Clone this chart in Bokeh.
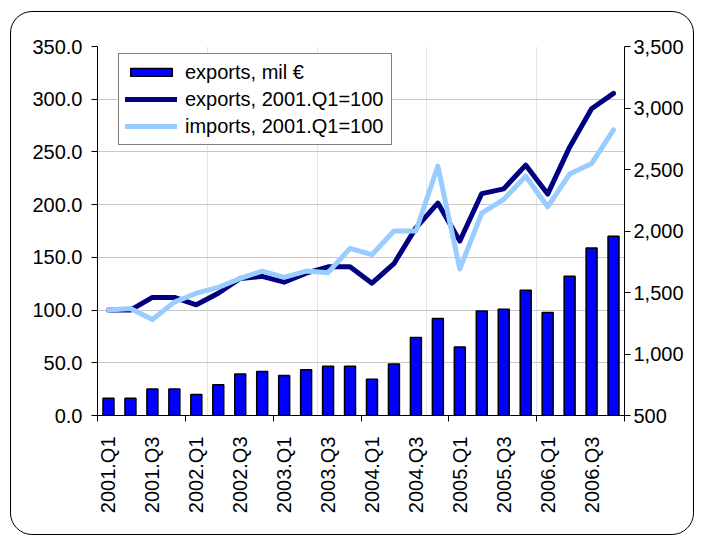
import math
import numpy as np
from bokeh.plotting import figure
from bokeh.models import (Range1d, LinearAxis, FixedTicker, NumeralTickFormatter,
                          Legend, LegendItem, Grid, ColumnDataSource, InlineStyleSheet)
from bokeh.embed import file_html
from bokeh.resources import INLINE

quarters = ["2001.Q1", "2001.Q2", "2001.Q3", "2001.Q4",
            "2002.Q1", "2002.Q2", "2002.Q3", "2002.Q4",
            "2003.Q1", "2003.Q2", "2003.Q3", "2003.Q4",
            "2004.Q1", "2004.Q2", "2004.Q3", "2004.Q4",
            "2005.Q1", "2005.Q2", "2005.Q3", "2005.Q4",
            "2006.Q1", "2006.Q2", "2006.Q3", "2006.Q4"]
exports_mil = [640, 640, 716, 716, 671, 749, 838, 858, 825, 871, 900, 900,
               795, 919, 1134, 1288, 1057, 1350, 1364, 1518, 1337, 1632, 1862, 1957]
exports_idx = [100, 100, 112, 112, 105, 116, 130, 132, 126.5, 135, 141, 141,
               125.5, 144, 178, 201.5, 165.5, 210.5, 215, 237.5, 210, 254.5, 291, 305.5]
imports_idx = [100, 101.5, 91, 107.5, 116, 121.5, 130, 137, 131, 137, 135.5, 158.5,
               152.5, 175, 175, 236.5, 139, 192, 205, 227, 198, 229, 239, 271]
left_ticks = [0, 50, 100, 150, 200, 250, 300, 350]
right_ticks = [500, 1000, 1500, 2000, 2500, 3000, 3500]

FONT = "Liberation Sans"
n = len(quarters)
xpos = np.arange(n) + 0.5
src = ColumnDataSource(dict(x=xpos, q=quarters, mil=exports_mil,
                            ex=exports_idx, im=imports_idx))

p = figure(width=695, height=536, x_range=Range1d(0, n),
           y_range=Range1d(left_ticks[0], left_ticks[-1]),
           output_backend="svg", toolbar_location=None,
           x_axis_location=None, y_axis_location=None,
           min_border_left=97, min_border_right=71, min_border_top=46, min_border_bottom=121)
p.outline_line_color = None
p.background_fill_color = "white"
p.border_fill_color = "white"
p.extra_y_ranges = {"mil": Range1d(right_ticks[0], right_ticks[-1])}

# axes
lt = FixedTicker(ticks=left_ticks)
yl = LinearAxis(ticker=lt, formatter=NumeralTickFormatter(format="0.0"))
yr = LinearAxis(y_range_name="mil", ticker=FixedTicker(ticks=right_ticks),
                formatter=NumeralTickFormatter(format="0,0"))
xt = FixedTicker(ticks=list(xpos[::2]), minor_ticks=list(np.arange(0, n + 1, 4)))
xa = LinearAxis(ticker=xt, major_label_overrides={float(v): quarters[i]
                                                  for i, v in enumerate(xpos) if i % 2 == 0})

for ax in (yl, yr, xa):
    ax.axis_line_color = "black"
    ax.axis_line_width = 1
    ax.major_tick_line_color = "black"
    ax.major_tick_in = 0
    ax.major_tick_out = 6
    ax.minor_tick_line_color = None
    ax.major_label_text_font = FONT
    ax.major_label_text_font_size = "20px"
    ax.major_label_text_color = "black"
yl.major_label_standoff = 9
yr.major_label_standoff = 3
xa.major_tick_line_color = None
xa.major_tick_out = 0
xa.minor_tick_line_color = "black"
xa.minor_tick_in = 0
xa.minor_tick_out = 6
xa.major_label_orientation = math.pi / 2
xa.major_label_standoff = 15

p.add_layout(yl, "left")
p.add_layout(yr, "right")
p.add_layout(xa, "below")
p.add_layout(Grid(dimension=1, ticker=lt, grid_line_color="#c8c8c8", grid_line_width=1))

bars = p.vbar(x="x", width=0.5, bottom=right_ticks[0], top="mil", source=src, y_range_name="mil",
              fill_color="#0000ff", line_color="black", line_width=1.5)
l1 = p.line("x", "ex", source=src, line_color="#000080", line_width=5,
            line_join="round", line_cap="round")
l2 = p.line("x", "im", source=src, line_color="#99ccff", line_width=5,
            line_join="round", line_cap="round")

legend = Legend(items=[LegendItem(label="exports, mil €", renderers=[bars]),
                       LegendItem(label="exports, 2001.Q1=100", renderers=[l1]),
                       LegendItem(label="imports, 2001.Q1=100", renderers=[l2])],
                location=(21, 270), orientation="vertical",
                label_text_font=FONT, label_text_font_size="20px", label_text_color="black",
                glyph_width=52, glyph_height=10, label_height=24, label_width=200,
                padding=6, spacing=3, label_standoff=8, margin=0,
                border_line_color="black", border_line_width=1,
                background_fill_color="white", background_fill_alpha=1)
p.add_layout(legend)

# rounded chart-area border
p.stylesheets = [InlineStyleSheet(css="""
:host { position: relative; }
:host::after {
  content: ''; position: absolute; left: 10px; top: 11px;
  width: 684px; height: 524px; box-sizing: border-box;
  border: 1.3px solid #000; border-radius: 22px;
  pointer-events: none; z-index: 10;
}
""")]

open("out.html", "w").write(file_html(p, INLINE))
